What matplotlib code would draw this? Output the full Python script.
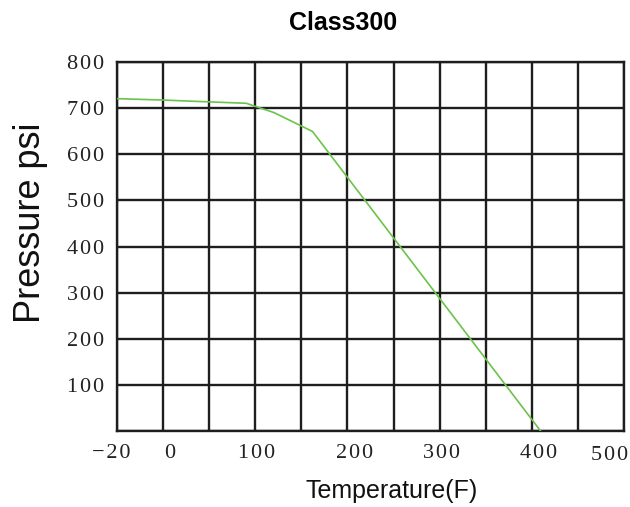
import numpy as np
import matplotlib
matplotlib.use("Agg")
import matplotlib.pyplot as plt
from matplotlib.scale import FuncScale
from matplotlib.transforms import offset_copy

# ---- data ----
temps_F = [-20, 0, 50, 90, 120, 162, 410]
pressure_psi = [720, 717, 713, 710, 690, 649, 0]

grid_temps = [-20, 0, 50, 100, 150, 200, 250, 300, 350, 400, 450, 500]
xtick_values = [-20, 0, 100, 200, 300, 400, 500]
xtick_labels = ["−20", "0", "100", "200", "300", "400", "500"]
ytick_values = [0, 100, 200, 300, 400, 500, 600, 700, 800]
ytick_labels = ["", "100", "200", "300", "400", "500", "600", "700", "800"]

# label nudges in pixels (dx, dy) as drawn in the reference
xlabel_nudges = [(-5.6, 21.7), (6.7, 21.7), (1.0, 21.7), (7.2, 21.7),
                 (1.5, 21.7), (6.7, 21.7), (-13.7, 24.7)]

HS = "\u200a"
def spaced(s):
    return HS.join(list(s))

W, H = 630, 507
fig = plt.figure(figsize=(W / 100, H / 100), dpi=100)
L, R, T, B = 117.3, 623.7, 61.7, 431.3
ax = fig.add_axes([L / W, 1 - B / H, (R - L) / W, (B - T) / H])

# piecewise-linear temperature scale: -20..0 spans one cell, then 50 F per cell
knots_F = np.array([-20.0, 0.0, 500.0])
knots_p = np.array([0.0, 1.0, 11.0])
def fwd(v):
    v = np.asarray(v, dtype=float)
    return np.interp(v, knots_F, knots_p) + \
        np.where(v < -20, (v + 20) / 20, 0) + np.where(v > 500, (v - 500) / 50, 0)
def inv(p):
    p = np.asarray(p, dtype=float)
    return np.interp(p, knots_p, knots_F) + \
        np.where(p < 0, p * 20, 0) + np.where(p > 11, (p - 11) * 50, 0)
ax.set_xscale(FuncScale(ax, (fwd, inv)))

ax.plot(temps_F, pressure_psi, color="#6cc24a", linewidth=1.2, zorder=3)

ax.set_xlim(-20, 500)
ax.set_ylim(0, 800)

grid_color = "#1e1e1e"
tick_font = ["Liberation Serif", "DejaVu Serif"]
ax.set_xticks(grid_temps)
ax.set_xticklabels([""] * len(grid_temps))
ax.set_yticks(ytick_values)
ax.set_yticklabels([spaced(s) for s in ytick_labels],
                   fontsize=16, family=tick_font, color="#222222")
ax.tick_params(length=0, axis="y", pad=9.4)
ax.tick_params(length=0, axis="x")
ax.grid(True, color=grid_color, linewidth=1.7)
for sp in ax.spines.values():
    sp.set_color(grid_color)
    sp.set_linewidth(1.7)

for val, lab, (dx, dy) in zip(xtick_values, xtick_labels, xlabel_nudges):
    tr = offset_copy(ax.get_xaxis_transform(), fig=fig, x=dx, y=-dy, units="dots")
    ax.text(val, 0, spaced(lab), transform=tr, ha="center", va="center",
            fontsize=16, family=tick_font, color="#222222", clip_on=False)

fig.text(343 / W, 1 - 22.8 / H, "Class300", ha="center", va="center",
         fontsize=18, fontweight="bold", family="Liberation Sans")
fig.text(31 / W, 1 - 223 / H, "Pressure psi", rotation=90, ha="center",
         va="center", fontsize=26, family="Liberation Sans", color="#111111")
fig.text(391.7 / W, 1 - 498.3 / H, "Temperature(F)", ha="center",
         va="baseline", fontsize=18, family="Liberation Sans", color="#111111")

fig.savefig("out.png", dpi=100)
